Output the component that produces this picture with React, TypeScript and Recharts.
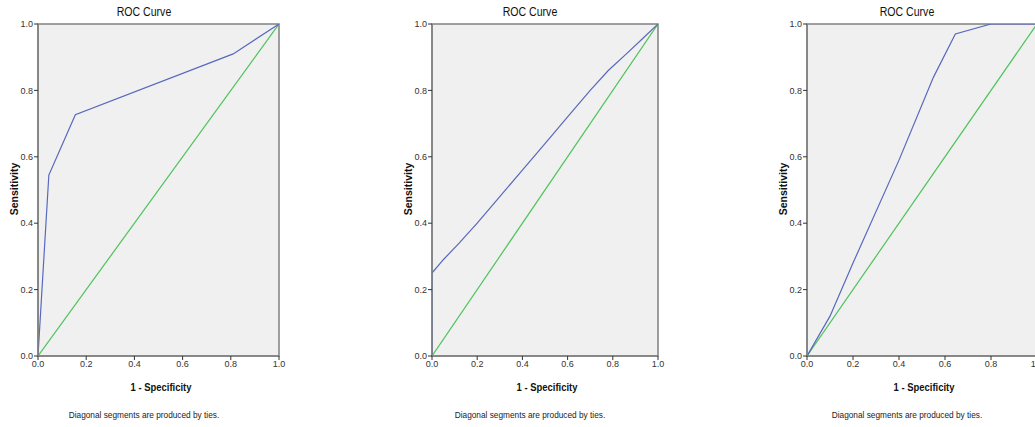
import { LineChart, Line, XAxis, YAxis, ReferenceArea } from 'recharts'

interface Pt {
  x: number
  y: number
}

const xTicks = [0, 0.2, 0.4, 0.6, 0.8, 1.0]
const yTicks = [0, 0.2, 0.4, 0.6, 0.8, 1.0]

const chanceLine: Pt[] = [
  { x: 0, y: 0 },
  { x: 1, y: 1 },
]

const rocA: Pt[] = [
  { x: 0, y: 0 },
  { x: 0.045, y: 0.545 },
  { x: 0.155, y: 0.727 },
  { x: 0.81, y: 0.91 },
  { x: 1, y: 1 },
]

const rocB: Pt[] = [
  { x: 0, y: 0 },
  { x: 0, y: 0.25 },
  { x: 0.05, y: 0.29 },
  { x: 0.12, y: 0.34 },
  { x: 0.2, y: 0.4 },
  { x: 0.3, y: 0.48 },
  { x: 0.4, y: 0.56 },
  { x: 0.5, y: 0.64 },
  { x: 0.6, y: 0.72 },
  { x: 0.7, y: 0.8 },
  { x: 0.78, y: 0.86 },
  { x: 0.86, y: 0.91 },
  { x: 0.93, y: 0.955 },
  { x: 1, y: 1 },
]

const rocC: Pt[] = [
  { x: 0, y: 0 },
  { x: 0.1, y: 0.12 },
  { x: 0.2, y: 0.28 },
  { x: 0.4, y: 0.59 },
  { x: 0.55, y: 0.84 },
  { x: 0.645, y: 0.97 },
  { x: 0.8, y: 1.0 },
  { x: 1, y: 1 },
]

const narrow = "'Liberation Sans Narrow', 'Liberation Sans', Arial, sans-serif"
const blue = '#5868bd'
const green = '#4cc35a'
const border = '#808080'

interface PanelProps {
  left: number
  width: number
  data: Pt[]
}

function RocPanel({ left, width, data }: PanelProps) {
  const plotLeft = left + 38
  const plotRight = left + width - 11
  const titleCenter = (plotLeft + plotRight) / 2 - 15
  return (
    <>
      <div style={{ position: 'absolute', left, top: 0 }}>
        <LineChart width={width} height={427} margin={{ top: 24, right: 11, bottom: 51, left: 8 }}>
          <XAxis
            type="number"
            dataKey="x"
            domain={[0, 1]}
            ticks={xTicks}
            tickFormatter={(v: number) => v.toFixed(1)}
            tick={{ fill: '#333', fontSize: 9, fontFamily: narrow }}
            tickSize={4}
            tickMargin={1}
            height={20}
            axisLine={{ stroke: border, strokeWidth: 1.5 }}
            tickLine={{ stroke: '#333' }}
            allowDataOverflow
          />
          <YAxis
            type="number"
            dataKey="y"
            domain={[0, 1]}
            ticks={yTicks}
            tickFormatter={(v: number) => v.toFixed(1)}
            tick={{ fill: '#333', fontSize: 9, fontFamily: narrow }}
            tickSize={4}
            tickMargin={1}
            width={30}
            axisLine={{ stroke: border, strokeWidth: 1.5 }}
            tickLine={{ stroke: '#333' }}
            allowDataOverflow
          />
          <ReferenceArea x1={0} x2={1} y1={0} y2={1} fill="#f0f0f0" fillOpacity={1} stroke={border} strokeWidth={1.5} />
          <Line data={chanceLine} dataKey="y" stroke={green} strokeWidth={1.2} dot={false} isAnimationActive={false} />
          <Line data={data} dataKey="y" stroke={blue} strokeWidth={1.2} dot={false} isAnimationActive={false} />
        </LineChart>
      </div>
      <div style={{ position: 'absolute', left: titleCenter - 60, width: 120, top: 5, textAlign: 'center', fontFamily: narrow, fontSize: 12, color: '#111', transform: 'scaleX(0.88)' }}>
        ROC Curve
      </div>
      <div
        style={{
          position: 'absolute',
          left: left + 14 - 50,
          top: 190 - 7,
          width: 100,
          textAlign: 'center',
          transform: 'rotate(-90deg)',
          fontFamily: "'Liberation Sans', Arial, sans-serif",
          fontWeight: 'bold',
          fontSize: 10.5,
          color: '#111',
        }}
      >
        Sensitivity
      </div>
      <div style={{ position: 'absolute', left: (plotLeft + plotRight) / 2 + 2 - 60, width: 120, top: 381, textAlign: 'center', fontFamily: narrow, fontWeight: 'bold', fontSize: 11.5, color: '#111', transform: 'scaleX(0.82)' }}>
        1 - Specificity
      </div>
      <div style={{ position: 'absolute', left: titleCenter - 100, width: 200, top: 410, textAlign: 'center', fontFamily: narrow, fontSize: 9, color: '#222', transform: 'scaleX(0.92)' }}>
        Diagonal segments are produced by ties.
      </div>
    </>
  )
}

export default function App() {
  return (
    <div style={{ position: 'fixed', left: 0, top: 0, width: 1035, height: 427, overflow: 'hidden', background: '#fff' }}>
      <RocPanel left={0} width={290} data={rocA} />
      <RocPanel left={394} width={275} data={rocB} />
      <RocPanel left={769} width={279} data={rocC} />
    </div>
  )
}
